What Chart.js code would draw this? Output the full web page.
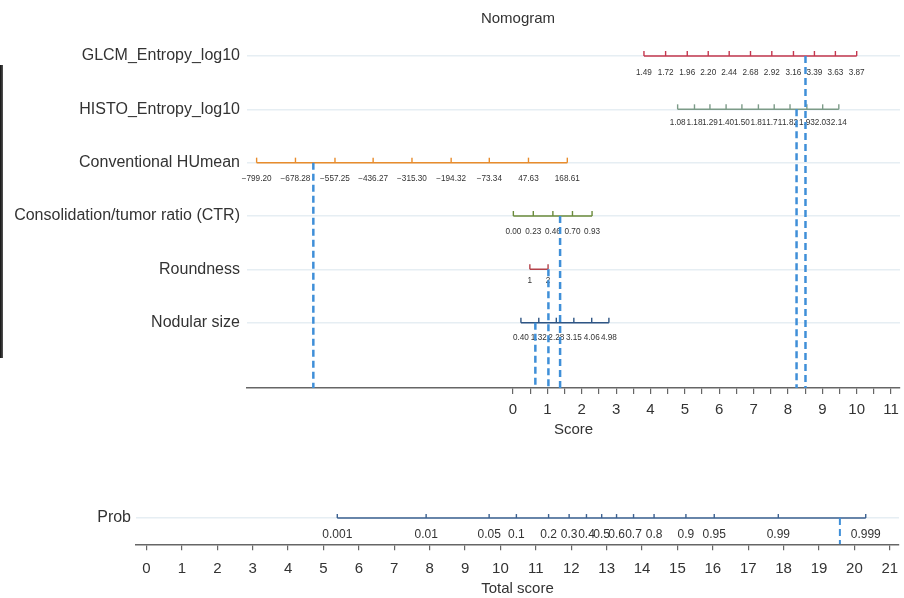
<!DOCTYPE html>
<html lang="en">
  <head>
    <meta charset="UTF-8" />
    <title>Nomogram</title>
    <script src="https://cdn.jsdelivr.net/npm/chart.js@4"></script>
    <style>
      body { margin: 0; background: #fff; font-family: "Liberation Sans", Arial, sans-serif; }
      #wrap { position: relative; width: 904px; height: 598px; overflow: hidden; }
      #title { position: absolute; top: 9px; left: 418px; width: 200px; text-align: center; font-size: 15px; color: #333; }
      #strip { position: absolute; left: 0; top: 65px; width: 3px; height: 293px; background: linear-gradient(to right, #111, #555); }
      #top { position: absolute; left: 0; top: 0; }
      #bottom { position: absolute; left: 0; top: 490px; }
    </style>
  </head>
  <body>
    <div id="wrap">
      <div id="strip"></div>
      <canvas id="top" width="904" height="450"></canvas>
      <canvas id="bottom" width="904" height="108"></canvas>
      <div id="title">Nomogram</div>
    </div>
    <script>
      // rows of the nomogram (top to bottom)
      const rowNames = ["GLCM_Entropy_log10", "HISTO_Entropy_log10", "Conventional HUmean",
        "Consolidation/tumor ratio (CTR)", "Roundness", "Nodular size"];

      // tick labels of each variable and where they sit on the Score axis
      const glcmLabels = ["1.49", "1.72", "1.96", "2.20", "2.44", "2.68", "2.92", "3.16", "3.39", "3.63", "3.87"];
      const glcmScores = [3.81, 4.44, 5.07, 5.68, 6.29, 6.91, 7.53, 8.16, 8.77, 9.38, 10.00];
      const histoLabels = ["1.08", "1.18", "1.29", "1.40", "1.50", "1.81", "1.71", "1.82", "1.93", "2.03", "2.14"];
      const histoScores = [4.79, 5.28, 5.73, 6.20, 6.66, 7.14, 7.60, 8.06, 8.55, 9.01, 9.48];
      const huLabels = ["\u2212799.20", "\u2212678.28", "\u2212557.25", "\u2212436.27", "\u2212315.30",
        "\u2212194.32", "\u221273.34", "47.63", "168.61"];
      const huScores = [-7.46, -6.33, -5.18, -4.07, -2.94, -1.80, -0.69, 0.45, 1.58];
      const ctrLabels = ["0.00", "0.23", "0.46", "0.70", "0.93"];
      const ctrScores = [0.01, 0.59, 1.16, 1.73, 2.30];
      const roundLabels = ["1", "2"];
      const roundScores = [0.49, 1.02];
      const sizeLabels = ["0.40", "1.32", "2.28", "3.15", "4.06", "4.98"];
      const sizeScores = [0.23, 0.75, 1.26, 1.77, 2.29, 2.79];

      // the patient's points per row (dashed lines)
      const patientScores = [8.51, 8.25, -5.81, 1.37, 1.03, 0.65];

      const scoreTicks = [0, 0.5, 1, 1.5, 2, 2.5, 3, 3.5, 4, 4.5, 5, 5.5, 6, 6.5, 7, 7.5, 8, 8.5, 9, 9.5, 10, 10.5, 11];

      // probability scale against total score
      const probLabels = ["0.001", "0.01", "0.05", "0.1", "0.2", "0.3", "0.4", "0.5", "0.6", "0.7",
        "0.8", "0.9", "0.95", "0.99", "0.999"];
      const probScores = [5.39, 7.90, 9.68, 10.45, 11.36, 11.94, 12.43, 12.86, 13.28, 13.76,
        14.34, 15.24, 16.04, 17.85, 20.32];
      const patientTotal = 19.59;
      const totalTicks = [0, 1, 2, 3, 4, 5, 6, 7, 8, 9, 10, 11, 12, 13, 14, 15, 16, 17, 18, 19, 20, 21];

      const FONT = "'Liberation Sans', Arial, sans-serif";
      const TEXT = "#333";
      const GRID = "#e6eef3";
      const AXIS = "#666";
      const DASH = "#3f8fd8";

      const rows = [
        { labels: glcmLabels, scores: glcmScores, color: "#c5374e", off: 17 },
        { labels: histoLabels, scores: histoScores, color: "#7c9b88", off: 13.5 },
        { labels: huLabels, scores: huScores, color: "#e88c2c", off: 16.5 },
        { labels: ctrLabels, scores: ctrScores, color: "#6b8b3b", off: 15.5 },
        { labels: roundLabels, scores: roundScores, color: "#b4424a", off: 11 },
        { labels: sizeLabels, scores: sizeScores, color: "#2e5584", off: 15 },
      ];

      // small upward ticks + value labels under each variable line
      const rowTicks = {
        id: "rowTicks",
        beforeDatasetsDraw(chart, args, opts) {
          const ctx = chart.ctx;
          chart.data.datasets.forEach((ds, i) => {
            if (!ds.tickLabels) return;
            const meta = chart.getDatasetMeta(i);
            ctx.save();
            ctx.strokeStyle = ds.borderColor;
            ctx.lineWidth = 1.4;
            ctx.fillStyle = TEXT;
            ctx.font = opts.font;
            ctx.textAlign = "center";
            ctx.textBaseline = "middle";
            meta.data.forEach((pt, j) => {
              ctx.beginPath();
              ctx.moveTo(pt.x, pt.y);
              ctx.lineTo(pt.x, pt.y - opts.tickLength);
              ctx.stroke();
              ctx.fillText(ds.tickLabels[j], pt.x, pt.y + ds.labelOffset);
            });
            ctx.restore();
          });
        },
      };

      // fixed axis height, no extra edge padding from labels
      const fixHeight = (h) => (scale) => {
        scale.height = h;
        scale.paddingLeft = 0;
        scale.paddingRight = 0;
      };

      const rowMax = 7.224;
      const topSets = [];
      rows.forEach((r, i) => {
        topSets.push({
          data: r.scores.map((s) => ({ x: s, y: i + 1 })),
          borderColor: r.color,
          borderWidth: 1.5,
          pointRadius: 0,
          tickLabels: r.labels,
          labelOffset: r.off,
          order: 2,
        });
      });
      patientScores.forEach((s, i) => {
        topSets.push({
          data: [{ x: s, y: i + 1 }, { x: s, y: rowMax }],
          borderColor: DASH,
          borderWidth: 2.5,
          borderDash: [7, 4],
          pointRadius: 0,
          order: 1,
        });
      });

      new Chart(document.getElementById("top"), {
        type: "line",
        data: { datasets: topSets },
        plugins: [rowTicks],
        options: {
          responsive: false,
          animation: false,
          layout: { autoPadding: false, padding: { top: 29.3, right: 4, left: 0, bottom: 0 } },
          plugins: {
            legend: { display: false },
            tooltip: { enabled: false },
            rowTicks: { font: "8.2px " + FONT, tickLength: 5 },
          },
          scales: {
            x: {
              type: "linear",
              min: -7.74,
              max: 11.26,
              afterBuildTicks: (scale) => { scale.ticks = scoreTicks.map((v) => ({ value: v })); },
              afterFit: fixHeight(62),
              ticks: {
                autoSkip: false,
                maxRotation: 0,
                padding: 7,
                color: TEXT,
                font: { family: FONT, size: 15 },
                callback: (v) => (Number.isInteger(v) ? String(v) : ""),
              },
              grid: { drawOnChartArea: false, tickLength: 6, color: AXIS, lineWidth: 1.2 },
              border: { display: true, color: AXIS, width: 1.4 },
              title: { display: true, text: "Score", color: TEXT, font: { family: FONT, size: 15 }, padding: { bottom: 11 } },
            },
            y: {
              type: "linear",
              reverse: true,
              min: 0.5,
              max: rowMax,
              afterBuildTicks: (scale) => { scale.ticks = rowNames.map((n, i) => ({ value: i + 1 })); },
              afterFit: (scale) => { scale.width = 247; },
              ticks: {
                padding: 7,
                color: TEXT,
                font: { family: FONT, size: 16 },
                callback: (v) => rowNames[v - 1],
              },
              grid: { color: GRID, lineWidth: 1.5, drawTicks: false },
              border: { display: false },
            },
          },
        },
      });

      new Chart(document.getElementById("bottom"), {
        type: "line",
        data: {
          datasets: [
            {
              data: [{ x: patientTotal, y: 1 }, { x: patientTotal, y: 1.977 }],
              borderColor: DASH,
              borderWidth: 2,
              borderDash: [7, 4],
              pointRadius: 0,
              order: 1,
            },
            {
              data: probScores.map((s) => ({ x: s, y: 1 })),
              borderColor: "#3b6090",
              borderWidth: 1.5,
              pointRadius: 0,
              tickLabels: probLabels,
              labelOffset: 17,
              order: 2,
            },
          ],
        },
        plugins: [rowTicks],
        options: {
          responsive: false,
          animation: false,
          layout: { autoPadding: false, padding: { top: 10, right: 5, left: 0, bottom: 0 } },
          plugins: {
            legend: { display: false },
            tooltip: { enabled: false },
            rowTicks: { font: "12px " + FONT, tickLength: 4 },
          },
          scales: {
            x: {
              type: "linear",
              min: -0.297,
              max: 21.26,
              afterBuildTicks: (scale) => { scale.ticks = totalTicks.map((v) => ({ value: v })); },
              afterFit: fixHeight(53.7),
              ticks: {
                autoSkip: false,
                maxRotation: 0,
                padding: 10,
                color: TEXT,
                font: { family: FONT, size: 15 },
              },
              grid: { drawOnChartArea: false, tickLength: 6, color: AXIS, lineWidth: 1.2 },
              border: { display: true, color: AXIS, width: 1.4 },
              title: { display: true, text: "Total score", color: TEXT, font: { family: FONT, size: 15 }, padding: { bottom: 0 } },
            },
            y: {
              type: "linear",
              reverse: true,
              min: 0.5,
              max: 1.977,
              afterBuildTicks: (scale) => { scale.ticks = [{ value: 1 }]; },
              afterFit: (scale) => { scale.width = 136; },
              ticks: {
                padding: 5,
                color: TEXT,
                font: { family: FONT, size: 16 },
                callback: () => "Prob",
              },
              grid: { color: GRID, lineWidth: 1.5, drawTicks: false },
              border: { display: false },
            },
          },
        },
      });
    </script>
  </body>
</html>
